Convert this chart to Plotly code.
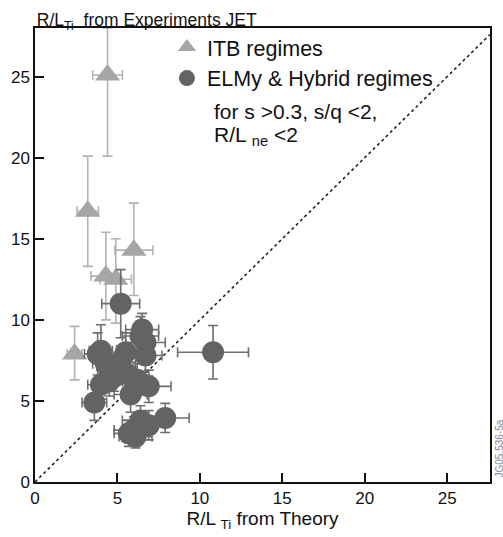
import plotly.graph_objects as go

# ITB regimes: R/L_Ti theory (x) vs experiment (y), with uncertainties
itb_x = [4.4, 3.2, 6.0, 4.3, 4.9, 2.4]
itb_y = [25.1, 16.7, 14.3, 12.7, 12.5, 7.9]
itb_ex = [0.9, 0.65, 1.15, 0.9, 0.95, 0.45]
itb_ey_plus = [2.9, 3.4, 2.9, 2.7, 2.5, 1.7]
itb_ey_minus = [5.0, 3.4, 2.8, 2.7, 2.7, 1.6]

# ELMy & Hybrid regimes
elmy_x = [5.2, 6.5, 6.4, 6.7, 3.8, 4.0, 5.5, 6.7, 5.2, 4.3, 10.8, 4.8, 5.7,
          6.2, 4.0, 4.5, 6.9, 5.8, 3.6, 7.9, 6.4, 6.9, 6.0, 6.1, 5.7]
elmy_y = [11.0, 9.4, 9.0, 8.6, 7.9, 8.1, 8.0, 7.8, 7.4, 7.3, 8.0, 6.5, 6.6,
          6.3, 6.0, 6.2, 5.9, 5.4, 4.9, 3.95, 3.8, 3.5, 3.2, 2.8, 3.0]
elmy_ex = [1.15, 1.0, 1.1, 1.2, 0.8, 0.7, 1.1, 1.0, 0.9, 0.8, 2.15, 0.9, 1.0,
           0.9, 0.8, 0.8, 1.35, 1.0, 0.75, 1.45, 1.1, 1.0, 1.2, 1.0, 0.9]
elmy_ey = [2.1, 1.0, 1.2, 1.0, 1.3, 1.6, 1.2, 1.2, 1.0, 1.0, 1.65, 0.9, 1.0,
           1.0, 0.9, 0.9, 1.0, 1.1, 1.1, 0.9, 0.9, 0.9, 0.8, 0.7, 0.8]

X_MAX = 27.6
Y_MAX = 28
FONT = "Liberation Sans, Arial, sans-serif"
INK = "#111111"

fig = go.Figure()

# y = x reference line
fig.add_trace(go.Scatter(
    x=[0, X_MAX], y=[0, X_MAX], mode="lines",
    line=dict(color="#222222", width=1.6, dash="3px,3px"),
    showlegend=False, hoverinfo="skip", cliponaxis=True,
))

fig.add_trace(go.Scatter(
    x=itb_x, y=itb_y, mode="markers", name="ITB regimes",
    legendgroup="itb",
    marker=dict(symbol="triangle-up", size=22, color="#a6a6a6"),
    error_x=dict(type="data", array=itb_ex, color="#b3b3b3", thickness=1.6, width=5),
    error_y=dict(type="data", array=itb_ey_plus, arrayminus=itb_ey_minus,
                 color="#b3b3b3", thickness=1.6, width=5),
))

fig.add_trace(go.Scatter(
    x=elmy_x, y=elmy_y, mode="markers", name="ELMy & Hybrid regimes",
    legendgroup="elmy",
    marker=dict(symbol="circle", size=22, color="#636363"),
    error_x=dict(type="data", array=elmy_ex, color="#6e6e6e", thickness=1.6, width=5),
    error_y=dict(type="data", array=elmy_ey, color="#6e6e6e", thickness=1.6, width=5),
))

axis_common = dict(
    showgrid=False, zeroline=False, showline=True, linecolor=INK,
    linewidth=1.5, mirror=True, ticks="inside", ticklen=9, tickwidth=1.5,
    tickcolor=INK, tickfont=dict(size=17, color=INK, family=FONT),
    dtick=5, tick0=0,
)

fig.update_xaxes(range=[0, X_MAX], **axis_common,
                 title=dict(text="R/L <sub>Ti</sub> from Theory",
                            font=dict(size=19, color=INK, family=FONT),
                            standoff=5))
fig.update_yaxes(range=[0, Y_MAX], **axis_common)

fig.add_annotation(
    text="for s >0.3, s/q <2,", xref="paper", yref="paper",
    x=0.389, y=0.815, xanchor="left", yanchor="middle", showarrow=False,
    font=dict(size=21, color=INK, family=FONT),
)
fig.add_annotation(
    text="R/L <sub>ne</sub> <2", xref="paper", yref="paper",
    x=0.389, y=0.762, xanchor="left", yanchor="middle", showarrow=False,
    font=dict(size=21, color=INK, family=FONT),
)
fig.add_annotation(
    text="JG05.536-5a", xref="paper", yref="paper",
    x=1.0, y=0.0, xanchor="left", yanchor="bottom", xshift=1, yshift=2,
    textangle=-90, showarrow=False,
    font=dict(size=10, color="#888888", family=FONT),
)

fig.update_layout(
    width=503, height=537,
    margin=dict(l=34, r=11, t=28, b=53),
    paper_bgcolor="white", plot_bgcolor="white",
    font=dict(family=FONT, color=INK),
    title=dict(
        text="R/L<sub>Ti</sub>  from Experiments JET",
        xref="paper", yref="paper", x=0.004, y=1.0,
        xanchor="left", yanchor="bottom", pad=dict(b=2),
        font=dict(size=17.5, color=INK, family=FONT),
    ),
    legend=dict(
        x=0.29, y=1.003, xanchor="left", yanchor="top",
        font=dict(size=21.5, family=FONT, color=INK),
        bgcolor="rgba(0,0,0,0)", traceorder="grouped", tracegroupgap=0,
        itemsizing="trace",
    ),
)

fig.write_html("out.html")
